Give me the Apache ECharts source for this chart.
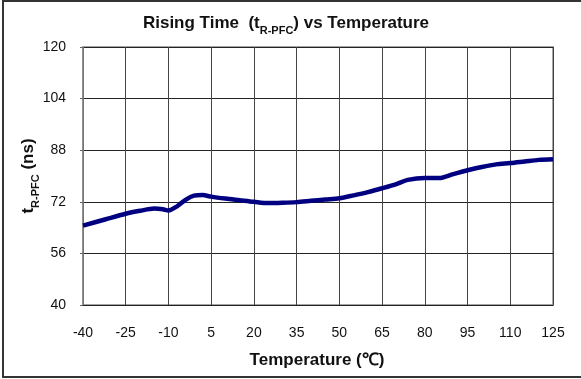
<!DOCTYPE html>
<html><head><meta charset="utf-8">
<script src="https://cdn.jsdelivr.net/npm/echarts@6/dist/echarts.min.js"></script>
<style>html,body{margin:0;padding:0;background:#fff;overflow:hidden}#c{width:581px;height:379px}</style>
</head><body><div id="c"></div>
<script>
const temps = [-40, -32, -25, -20, -15, -12, -10, -7, -4, -1, 2, 5, 10, 15, 20, 25, 30, 35, 40, 45, 50, 55, 60, 65, 70, 74, 80, 85, 90, 95, 100, 105, 110, 115, 120, 125];
const riseNs = [64.6, 66.6, 68.3, 69.2, 69.9, 69.7, 69.3, 70.6, 72.6, 73.9, 74.1, 73.6, 73.0, 72.5, 72.0, 71.6, 71.7, 71.9, 72.3, 72.7, 73.1, 74.0, 75.0, 76.2, 77.5, 78.8, 79.4, 79.4, 80.6, 81.8, 82.8, 83.6, 84.0, 84.5, 85.0, 85.2];
const xTicks = [-40, -25, -10, 5, 20, 35, 50, 65, 80, 95, 110, 125];
const yTicks = [40, 56, 72, 88, 104, 120];

const chart = echarts.init(document.getElementById('c'), null, {renderer: 'canvas'});
const font = 'Liberation Sans, Arial, sans-serif';
const richLabel = {
  b: {fontFamily: font, fontWeight: 'bold', fontSize: 17, fill: '#111', verticalAlign: 'bottom', lineHeight: 22},
  s: {fontFamily: font, fontWeight: 'bold', fontSize: 11, fill: '#111', verticalAlign: 'bottom', lineHeight: 15, padding: [0, 0, -4, 0]}
};
chart.setOption({
  animation: false,
  backgroundColor: '#fff',
  grid: {left: 83, right: 28, top: 47, bottom: 74, show: true, borderColor: '#888', borderWidth: 1.5},
  xAxis: {
    type: 'value', min: xTicks[0], max: xTicks[xTicks.length - 1], interval: 15,
    axisLine: {show: true, onZero: false, lineStyle: {color: '#222', width: 1}},
    axisTick: {show: false},
    axisLabel: {color: '#111', fontFamily: font, fontSize: 14, margin: 21},
    splitLine: {show: true, lineStyle: {color: '#444', width: 1}}
  },
  yAxis: {
    type: 'value', min: yTicks[0], max: yTicks[yTicks.length - 1], interval: 16,
    axisLine: {show: true, onZero: false, lineStyle: {color: '#888', width: 1.5}},
    axisTick: {show: true, length: 3, inside: false, lineStyle: {color: '#666'}},
    axisLabel: {color: '#111', fontFamily: font, fontSize: 14, margin: 17},
    splitLine: {show: true, lineStyle: {color: '#222', width: 1}}
  },
  graphic: [
    {type: 'polyline', silent: true, shape: {points: [[581, 1], [3, 1], [3, 377], [581, 377]]}, style: {fill: 'none', stroke: '#333', lineWidth: 2}},
    {type: 'text', x: 286, y: 10, style: {
      text: '{b|Rising Time  (t}{s|R-PFC}{b|) vs Temperature}', align: 'center',
      rich: richLabel
    }},
    {type: 'text', x: 317, y: 347, style: {
      text: '{b|Temperature (℃)}', align: 'center',
      rich: richLabel
    }},
    {type: 'text', x: 26, y: 176, rotation: Math.PI / 2, style: {
      text: '{b|t}{s|R-PFC}{b| (ns)}', align: 'center', verticalAlign: 'middle',
      rich: richLabel
    }}
  ],
  series: [{
    type: 'line', smooth: 0.3, symbol: 'none',
    data: temps.map((t, i) => [t, riseNs[i]]),
    lineStyle: {color: '#000080', width: 4.5},
    clip: true
  }]
});
</script></body></html>
